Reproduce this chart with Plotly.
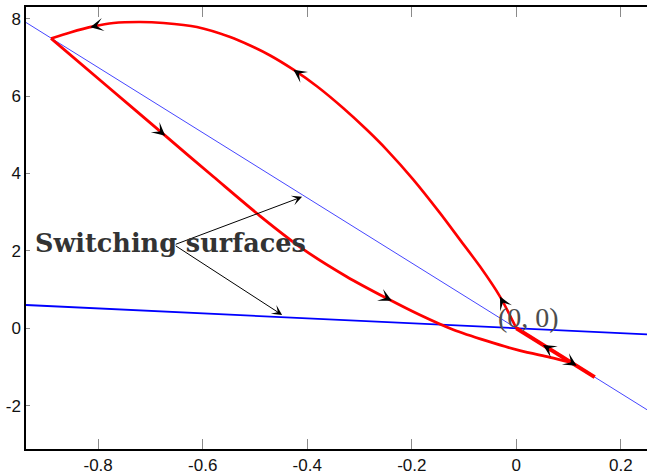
import numpy as np
import plotly.graph_objects as go

# ---- axes ----
X_RANGE = [-0.938, 0.25]
Y_RANGE = [-3.12, 8.30]
x_tick_vals = [-0.8, -0.6, -0.4, -0.2, 0, 0.2]
x_tick_text = ["-0.8", "-0.6", "-0.4", "-0.2", "0", "0.2"]
y_tick_vals = [-2, 0, 2, 4, 6, 8]
y_tick_text = ["-2", "0", "2", "4", "6", "8"]

# ---- switching surfaces (both pass through the origin) ----
surface_steep_x = [-0.938, 0.25]
surface_steep_y = [7.90, -2.105]
surface_flat_x = [-0.938, 0.25]
surface_flat_y = [0.60, -0.16]

# ---- phase trajectory ----
# arc leaving the origin and climbing to the switching point
arc_up_x = [0.0, -0.0312, -0.0694, -0.1076, -0.1459, -0.1975, -0.2478, -0.2860,
            -0.3308, -0.3816, -0.4264, -0.4709, -0.5092, -0.5474, -0.6111,
            -0.6750, -0.7195, -0.7706, -0.8088, -0.8533, -0.8902]
arc_up_y = [0.0, 0.817, 1.593, 2.283, 2.974, 3.848, 4.611, 5.128,
            5.684, 6.253, 6.680, 7.047, 7.305, 7.525, 7.784,
            7.887, 7.913, 7.887, 7.799, 7.644, 7.489]

# descent from the switching point back to the steep surface
descent_x = [-0.8902, -0.7832, -0.6717, -0.5793, -0.4901, -0.4073, -0.3243,
             -0.2478, -0.1841, -0.1205, -0.0566, 0.0071, 0.0644, 0.105]
descent_y = [7.489, 6.258, 4.975, 3.913, 2.899, 2.038, 1.332,
             0.773, 0.340, -0.040, -0.328, -0.579, -0.750, -0.884]

# sliding motion along the steep surface
slide_x = [0.0, 0.105, 0.150]
slide_y = [0.0, -0.884, -1.263]

# direction markers: x position of each arrow tip and sense of travel
arc_arrow_x = [-0.0312, -0.4264, -0.8151]
arc_arrow_dir = [1, 1, 1]
descent_arrow_x = [-0.6717, -0.2382]
descent_arrow_dir = [1, 1]
slide_arrow_x = [0.0511, 0.1154]
slide_arrow_dir = [-1, 1]

# label and its pointers
label_text = "Switching surfaces"
label_pos = (-0.925, 2.20)
pointer_from = (-0.6545, 2.154)
pointer_to_x = [-0.4098, -0.4480]
pointer_to_y = [3.395, 0.344]
origin_label = "(0, 0)"
origin_label_pos = (0.024, 0.27)

# ---- layout geometry ----
W, H = 647, 476
M_L, M_R, M_T, M_B = 26, 0, 7, 27
px_per_x = (W - M_L - M_R) / (X_RANGE[1] - X_RANGE[0])
px_per_y = (H - M_T - M_B) / (Y_RANGE[1] - Y_RANGE[0])

fig = go.Figure()

fig.add_trace(go.Scatter(x=surface_steep_x, y=surface_steep_y, mode="lines",
                         line=dict(color="#4646ff", width=1), hoverinfo="skip"))
fig.add_trace(go.Scatter(x=surface_flat_x, y=surface_flat_y, mode="lines",
                         line=dict(color="#0000ff", width=1.8), hoverinfo="skip"))

RED = "#ff0000"
fig.add_trace(go.Scatter(x=arc_up_x, y=arc_up_y, mode="lines",
                         line=dict(color=RED, width=2.6, shape="spline", smoothing=0.8),
                         hoverinfo="skip"))
fig.add_trace(go.Scatter(x=descent_x, y=descent_y, mode="lines",
                         line=dict(color=RED, width=2.8, shape="spline", smoothing=0.8),
                         hoverinfo="skip"))
fig.add_trace(go.Scatter(x=slide_x, y=slide_y, mode="lines",
                         line=dict(color=RED, width=4), hoverinfo="skip"))


def arrow_on_curve(xs, ys, x_tip, sense, back_px=7.0):
    """Tip and tail (data coords) of a small arrow sitting on a polyline."""
    xs = np.asarray(xs, float)
    ys = np.asarray(ys, float)
    seg = np.hypot(np.diff(xs) * px_per_x, np.diff(ys) * px_per_y)
    s = np.concatenate([[0.0], np.cumsum(seg)])
    order = np.argsort(xs)
    s_tip = np.interp(x_tip, xs[order], s[order])
    s_tail = s_tip - sense * back_px
    return (np.interp(s_tip, s, xs), np.interp(s_tip, s, ys),
            np.interp(s_tail, s, xs), np.interp(s_tail, s, ys))


annotations = []
for xs, ys, tips, dirs in [(arc_up_x, arc_up_y, arc_arrow_x, arc_arrow_dir),
                           (descent_x, descent_y, descent_arrow_x, descent_arrow_dir),
                           (slide_x, slide_y, slide_arrow_x, slide_arrow_dir)]:
    for xt, d in zip(tips, dirs):
        tx, ty, bx, by = arrow_on_curve(xs, ys, xt, d)
        annotations.append(dict(x=tx, y=ty, ax=bx, ay=by, xref="x", yref="y",
                                axref="x", ayref="y", text="", showarrow=True,
                                arrowhead=3, arrowsize=2.2, arrowwidth=1,
                                arrowcolor="black", standoff=0))

for tx, ty in zip(pointer_to_x, pointer_to_y):
    annotations.append(dict(x=tx, y=ty, ax=pointer_from[0], ay=pointer_from[1],
                            xref="x", yref="y", axref="x", ayref="y", text="",
                            showarrow=True, arrowhead=3, arrowsize=1.7,
                            arrowwidth=1, arrowcolor="black", standoff=0))

annotations.append(dict(x=label_pos[0], y=label_pos[1], xref="x", yref="y",
                        text=label_text, showarrow=False, xanchor="left",
                        yanchor="middle",
                        font=dict(family="DejaVu Serif", size=25.5, color="#333333",
                                  weight="bold")))
annotations.append(dict(x=origin_label_pos[0], y=origin_label_pos[1], xref="x",
                        yref="y", text=origin_label, showarrow=False,
                        xanchor="center", yanchor="middle",
                        font=dict(family="Liberation Serif", size=28,
                                  color="#4d4d4d")))

tick_font = dict(family="Liberation Sans Narrow, Arial Narrow, Liberation Sans",
                 size=17, color="#111111")

fig.update_layout(
    width=W, height=H,
    margin=dict(l=M_L, r=M_R, t=M_T, b=M_B, pad=0),
    paper_bgcolor="white", plot_bgcolor="white",
    showlegend=False,
    annotations=annotations,
    xaxis=dict(range=X_RANGE, tickvals=x_tick_vals, ticktext=x_tick_text,
               ticks="inside", ticklen=10, tickcolor="#8a8a8a", tickwidth=1,
               showline=True, linecolor="black", linewidth=1.5, mirror="ticks",
               showgrid=False, zeroline=False, tickfont=tick_font),
    yaxis=dict(range=Y_RANGE, tickvals=y_tick_vals, ticktext=y_tick_text,
               ticks="inside", ticklen=4, tickcolor="#8a8a8a", tickwidth=1,
               showline=True, linecolor="black", linewidth=1.5, mirror=False,
               showgrid=False, zeroline=False, tickfont=tick_font),
)

fig.write_html("out.html")
